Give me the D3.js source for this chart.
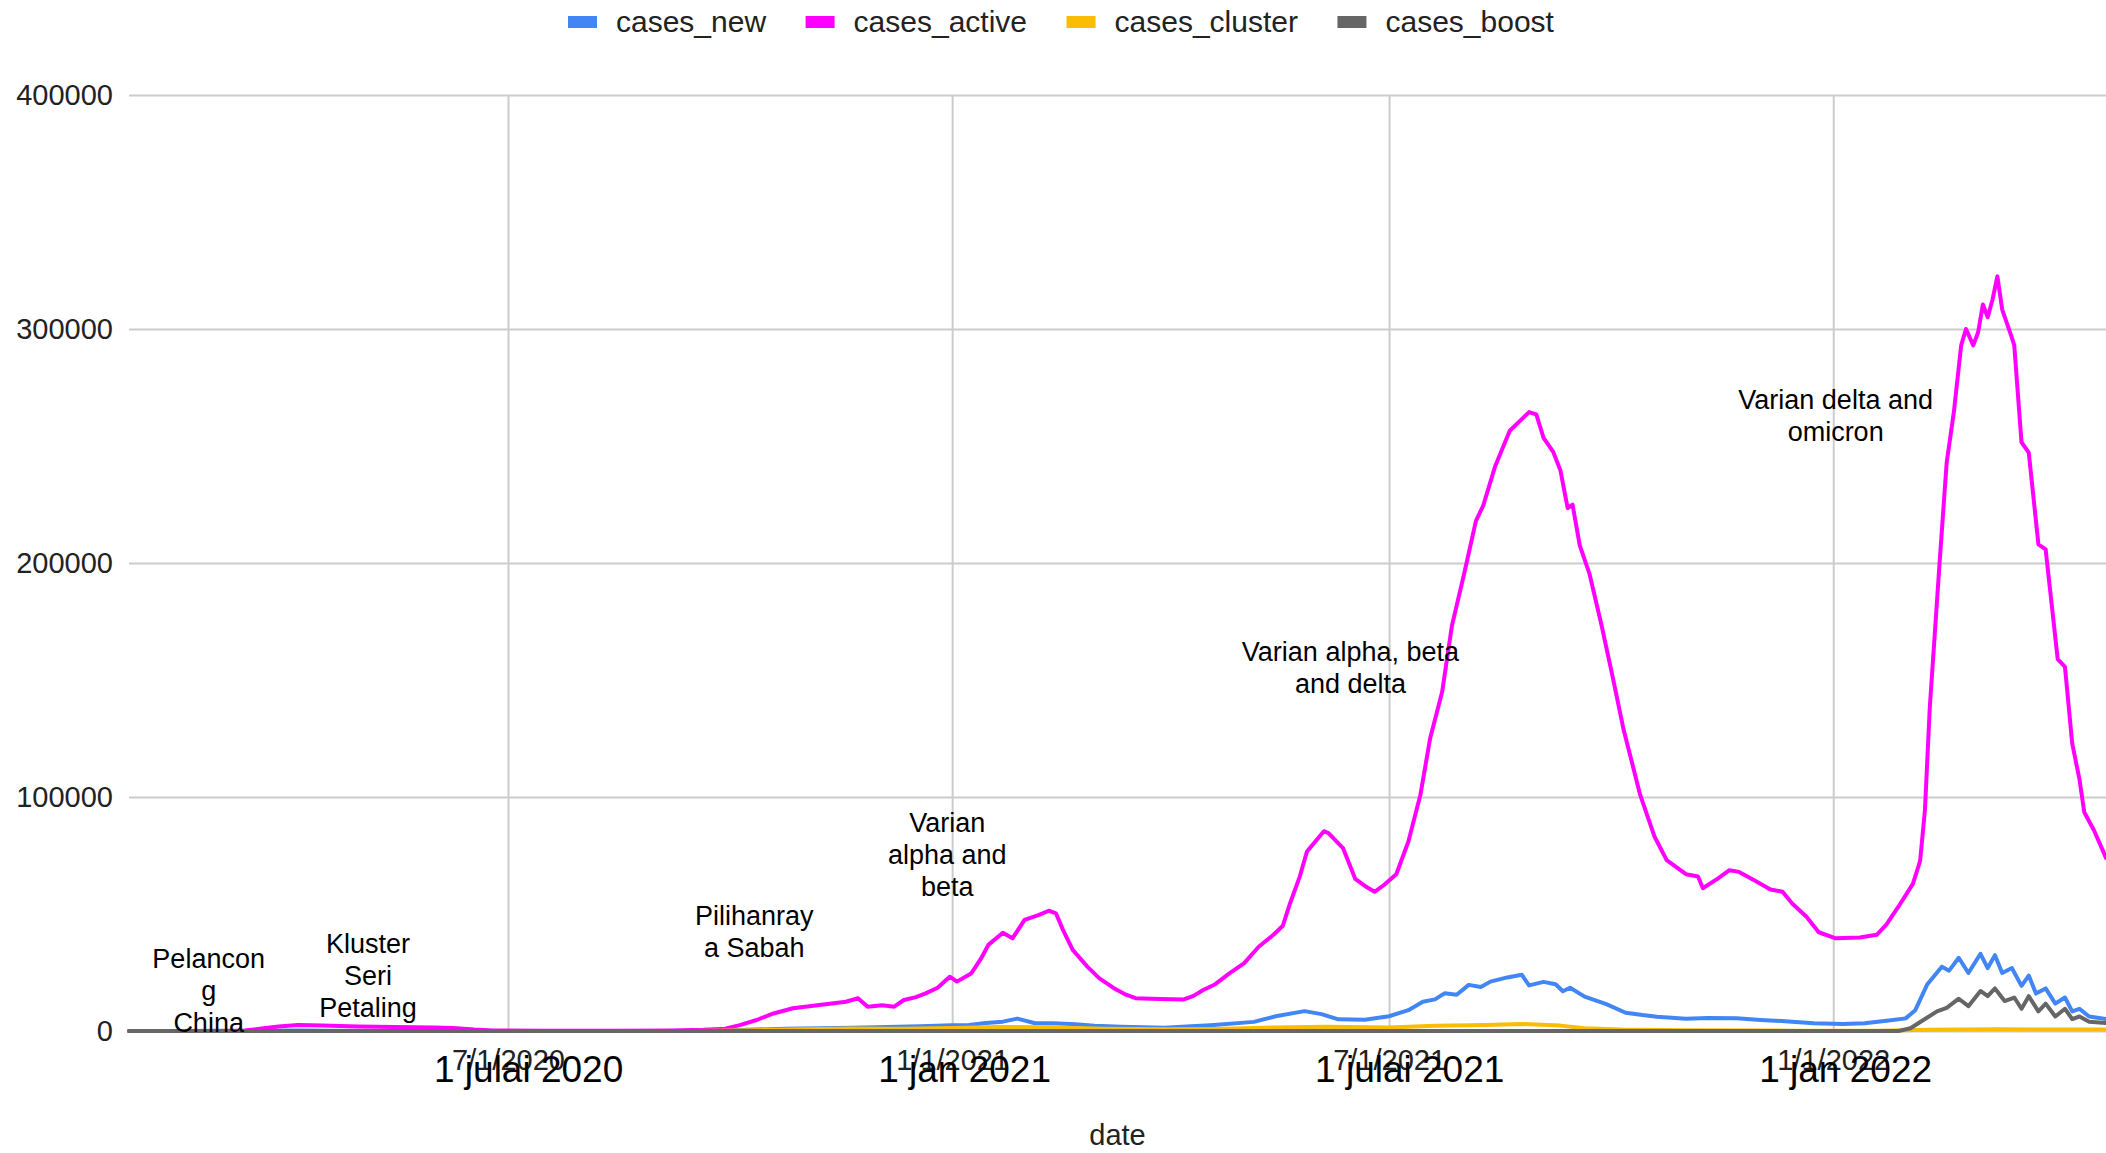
<!DOCTYPE html>
<html>
<head>
<meta charset="utf-8">
<title>cases chart</title>
<script src="https://d3js.org/d3.v7.min.js"></script>
<style>
    body { margin: 0; background: #fff; }
    text { font-family: "Liberation Sans", Arial, sans-serif; }
</style>
</head>
<body>
<div id="output"></div>
<script type="text/javascript">

    // values, [date, value]
    var casesNew = [
        ["2020-01-26",0],["2020-03-10",0],["2020-03-20",150],["2020-04-05",180],["2020-04-20",60],
        ["2020-06-01",30],["2020-09-01",20],["2020-09-20",100],["2020-10-05",400],["2020-10-24",1000],
        ["2020-11-08",1200],["2020-11-21",1400],["2020-12-05",1700],["2020-12-19",2000],["2021-01-01",2500],
        ["2021-01-08",2600],["2021-01-15",3400],["2021-01-22",4000],["2021-01-28",5300],["2021-02-04",3400],
        ["2021-02-12",3300],["2021-02-21",2900],["2021-03-01",2200],["2021-03-12",1800],["2021-03-30",1400],
        ["2021-04-10",2000],["2021-04-18",2500],["2021-05-06",3900],["2021-05-15",6300],["2021-05-27",8500],
        ["2021-06-03",7200],["2021-06-10",5000],["2021-06-21",4800],["2021-07-01",6300],["2021-07-09",8900],
        ["2021-07-15",12500],["2021-07-20",13500],["2021-07-24",16100],["2021-07-29",15500],["2021-08-03",19700],
        ["2021-08-08",18800],["2021-08-12",21100],["2021-08-19",22900],["2021-08-25",24000],["2021-08-28",19500],
        ["2021-09-03",21000],["2021-09-08",20000],["2021-09-11",17000],["2021-09-14",18500],["2021-09-20",14700],
        ["2021-09-29",11500],["2021-10-07",7800],["2021-10-14",6800],["2021-10-20",6100],["2021-11-01",5200],
        ["2021-11-10",5600],["2021-11-22",5400],["2021-12-02",4700],["2021-12-12",4200],["2021-12-24",3300],
        ["2022-01-05",3000],["2022-01-14",3300],["2022-01-24",4500],["2022-01-31",5400],["2022-02-04",8900],
        ["2022-02-09",20000],["2022-02-15",27500],["2022-02-18",25800],["2022-02-22",31300],["2022-02-26",24800],
        ["2022-03-03",33000],["2022-03-06",26900],["2022-03-09",32400],["2022-03-12",24800],["2022-03-16",26900],
        ["2022-03-20",19300],["2022-03-23",23700],["2022-03-26",16000],["2022-03-30",18200],["2022-04-03",11700],
        ["2022-04-07",14300],["2022-04-10",8400],["2022-04-13",9500],["2022-04-17",6200],["2022-04-24",5100]
    ];

    var casesActive = [
        ["2020-01-26",0],["2020-02-15",20],["2020-03-10",100],["2020-03-14",200],["2020-03-21",1100],
        ["2020-03-28",1900],["2020-04-05",2600],["2020-04-15",2300],["2020-04-30",1900],["2020-05-15",1700],
        ["2020-05-31",1500],["2020-06-08",1300],["2020-06-17",600],["2020-06-25",200],["2020-07-15",150],
        ["2020-08-15",100],["2020-09-07",200],["2020-09-20",500],["2020-09-29",1000],["2020-10-05",2500],
        ["2020-10-12",4700],["2020-10-19",7500],["2020-10-27",9700],["2020-11-02",10500],["2020-11-07",11100],
        ["2020-11-13",11900],["2020-11-18",12500],["2020-11-23",14000],["2020-11-27",10400],["2020-12-03",11000],
        ["2020-12-08",10400],["2020-12-12",13250],["2020-12-17",14500],["2020-12-21",16100],["2020-12-26",18500],
        ["2020-12-31",23200],["2021-01-03",21100],["2021-01-09",24700],["2021-01-13",31000],["2021-01-16",36800],
        ["2021-01-22",42000],["2021-01-26",39600],["2021-01-31",47500],["2021-02-06",49600],["2021-02-10",51400],
        ["2021-02-13",50300],["2021-02-16",43000],["2021-02-20",34600],["2021-02-26",27500],["2021-03-03",22500],
        ["2021-03-09",18300],["2021-03-14",15500],["2021-03-18",14000],["2021-03-28",13700],["2021-04-07",13500],
        ["2021-04-11",15000],["2021-04-15",17500],["2021-04-20",20000],["2021-04-26",24700],["2021-05-02",29000],
        ["2021-05-08",36000],["2021-05-14",41000],["2021-05-18",45000],["2021-05-21",54600],["2021-05-25",66000],
        ["2021-05-28",76700],["2021-06-04",85400],["2021-06-06",84500],["2021-06-12",78000],["2021-06-17",65000],
        ["2021-06-21",62000],["2021-06-25",59500],["2021-06-29",62500],["2021-07-04",67000],["2021-07-09",81000],
        ["2021-07-14",101000],["2021-07-18",125000],["2021-07-23",145000],["2021-07-27",173000],["2021-08-01",195000],
        ["2021-08-06",218000],["2021-08-09",224500],["2021-08-14",241500],["2021-08-20",256500],["2021-08-25",261500],
        ["2021-08-28",264500],["2021-08-31",263500],["2021-09-03",253500],["2021-09-07",247500],["2021-09-10",239500],
        ["2021-09-13",223500],["2021-09-15",225000],["2021-09-18",207500],["2021-09-22",195500],["2021-09-27",173500],
        ["2021-10-02",149500],["2021-10-06",129500],["2021-10-13",101000],["2021-10-19",83000],["2021-10-24",73000],
        ["2021-11-01",67000],["2021-11-06",66000],["2021-11-08",61000],["2021-11-14",65000],["2021-11-19",68700],
        ["2021-11-23",68000],["2021-11-30",64000],["2021-12-06",60500],["2021-12-11",59500],["2021-12-15",54500],
        ["2021-12-21",48700],["2021-12-26",42200],["2022-01-02",39600],["2022-01-12",40000],["2022-01-19",41100],
        ["2022-01-23",45500],["2022-01-28",53100],["2022-02-03",62900],["2022-02-06",72700],["2022-02-08",94500],
        ["2022-02-10",138200],["2022-02-14",199200],["2022-02-17",242900],["2022-02-20",264700],["2022-02-23",293000],
        ["2022-02-25",300000],["2022-02-28",293000],["2022-03-02",298500],["2022-03-04",310500],["2022-03-06",305000],
        ["2022-03-08",312600],["2022-03-10",322500],["2022-03-12",308300],["2022-03-16",296300],["2022-03-17",293000],
        ["2022-03-20",251600],["2022-03-23",247200],["2022-03-27",208000],["2022-03-30",205800],["2022-04-04",158900],
        ["2022-04-07",155600],["2022-04-10",122900],["2022-04-13",107600],["2022-04-15",93500],["2022-04-19",85800],
        ["2022-04-24",74000]
    ];

    var casesCluster = [
        ["2020-01-26",0],["2020-09-15",0],["2020-10-10",300],["2020-11-01",800],["2020-11-20",1100],
        ["2020-12-10",1000],["2021-01-01",1300],["2021-01-20",1700],["2021-02-10",1600],["2021-03-05",1000],
        ["2021-04-01",700],["2021-04-20",900],["2021-05-15",1500],["2021-06-05",1800],["2021-07-01",1500],
        ["2021-07-20",2200],["2021-08-10",2600],["2021-08-25",3000],["2021-09-10",2300],["2021-09-20",1200],
        ["2021-10-05",600],["2021-11-01",300],["2021-12-15",150],["2022-01-20",100],["2022-02-10",500],
        ["2022-03-10",700],["2022-04-24",600]
    ];

    var casesBoost = [
        ["2020-01-26",0],["2022-01-28",0],["2022-02-02",1200],["2022-02-08",5100],["2022-02-13",8400],
        ["2022-02-17",9900],["2022-02-22",13800],["2022-02-26",10600],["2022-03-03",17100],["2022-03-06",14900],
        ["2022-03-09",18200],["2022-03-13",12800],["2022-03-17",14300],["2022-03-20",9500],["2022-03-23",14900],
        ["2022-03-27",8400],["2022-03-30",11700],["2022-04-03",6200],["2022-04-07",9500],["2022-04-10",5100],
        ["2022-04-13",6200],["2022-04-17",4000],["2022-04-24",3400]
    ];

    var seriesNames = ["cases_new", "cases_active", "cases_cluster", "cases_boost"];
    var seriesColors = ["#4285f4", "#ff00ff", "#fbbc04", "#666666"];

    var yTicks = [0, 100000, 200000, 300000, 400000];
    var xTickDates = ["2020-07-01", "2021-01-01", "2021-07-01", "2022-01-01"];
    var xTickLabels = ["7/1/2020", "1/1/2021", "7/1/2021", "1/1/2022"];
    var xBigLabels = ["1 julai 2020", "1 jan 2021", "1 julai 2021", "1 jan 2022"];

    var annotationDates = ["2020-02-28", "2020-05-04", "2020-10-11", "2020-12-30", "2021-06-15", "2022-01-02"];
    var annotationValues = [27100, 33400, 45500, 85100, 158000, 266000];   // level of first line
    var annotationLines = [
        ["Pelancon", "g", "China"],
        ["Kluster", "Seri", "Petaling"],
        ["Pilihanray", "a Sabah"],
        ["Varian", "alpha and", "beta"],
        ["Varian alpha, beta", "and delta"],
        ["Varian delta and", "omicron"]
    ];

    var w = 2106;
    var h = 1153;
    var margin = {top: 95, right: 0, bottom: 122, left: 129};
    var wChart = w - margin.left - margin.right;
    var hChart = h - margin.top - margin.bottom;

    var parse = d3.timeParse("%Y-%m-%d");

    var x = d3.scaleTime()
        .domain([parse("2020-01-26"), parse("2022-04-24")])
        .range([0, wChart]);

    var y = d3.scaleLinear()
        .domain([0, 400000])
        .range([hChart, 0]);

    var svg = d3.select("#output").append("svg")
        .attr("width", w)
        .attr("height", h)
        .style("display", "block");

    var chart = svg.append("g")
        .attr("transform", "translate(" + margin.left + "," + margin.top + ")");

    // y axis + horizontal gridlines
    var yAxis = d3.axisLeft(y)
        .tickValues(yTicks)
        .tickSize(-wChart)
        .tickPadding(16)
        .tickFormat(d3.format("d"));

    var gy = chart.append("g").call(yAxis);
    gy.select(".domain").remove();
    gy.selectAll("line").attr("stroke", "#cccccc").attr("stroke-width", 2);
    gy.selectAll("text")
        .attr("fill", "#222")
        .style("font-size", "29px")
        .style("font-family", "'Liberation Sans', Arial, sans-serif");

    // x axis + vertical gridlines
    var xAxis = d3.axisBottom(x)
        .tickValues(xTickDates.map(parse))
        .tickSize(-hChart)
        .tickPadding(18)
        .tickFormat(function(d, i){ return xTickLabels[i]; });

    var gx = chart.append("g")
        .attr("transform", "translate(0," + hChart + ")")
        .call(xAxis);
    gx.select(".domain").remove();
    gx.selectAll("line").attr("stroke", "#cccccc").attr("stroke-width", 2);
    gx.selectAll("text")
        .attr("fill", "#222")
        .style("font-size", "29px")
        .style("font-family", "'Liberation Sans', Arial, sans-serif");

    // the larger date labels laid over the axis
    chart.selectAll(".biglabel")
        .data(xTickDates)
        .enter()
        .append("text")
        .attr("class", "biglabel")
        .attr("x", function(d){ return x(parse(d)) - 74; })
        .attr("y", hChart + 51)
        .attr("fill", "#000")
        .style("font-size", "37px")
        .text(function(d, i){ return xBigLabels[i]; });

    // lines
    var line = d3.line()
        .x(function(d){ return x(parse(d[0])); })
        .y(function(d){ return y(d[1]); });

    var allSeries = [casesNew, casesActive, casesCluster, casesBoost];

    chart.selectAll(".series")
        .data(allSeries)
        .enter()
        .append("path")
        .attr("class", "series")
        .attr("fill", "none")
        .attr("stroke", function(d, i){ return seriesColors[i]; })
        .attr("stroke-width", 4)
        .attr("stroke-linejoin", "round")
        .attr("stroke-linecap", "round")
        .attr("d", line);

    // annotations
    var ann = chart.selectAll(".ann")
        .data(annotationDates)
        .enter()
        .append("text")
        .attr("class", "ann")
        .attr("text-anchor", "middle")
        .attr("fill", "#000")
        .style("font-size", "27px");

    ann.each(function(d, i){
        var t = d3.select(this);
        annotationLines[i].forEach(function(s, k){
            t.append("tspan")
                .attr("x", x(parse(d)))
                .attr("y", y(annotationValues[i]) + k * 32)
                .text(s);
        });
    });

    // x axis title
    svg.append("text")
        .attr("x", margin.left + wChart / 2)
        .attr("y", 1145)
        .attr("text-anchor", "middle")
        .attr("fill", "#222")
        .style("font-size", "29px")
        .text("date");

    // legend
    var legend = svg.append("g").attr("transform", "translate(568,0)");
    var lx = 0;
    seriesNames.forEach(function(name, i){
        legend.append("rect")
            .attr("x", lx)
            .attr("y", 16)
            .attr("width", 29)
            .attr("height", 12)
            .attr("fill", seriesColors[i]);
        var t = legend.append("text")
            .attr("x", lx + 48)
            .attr("y", 32)
            .attr("fill", "#222")
            .style("font-size", "30px")
            .text(name);
        lx += 48 + t.node().getComputedTextLength() + 39.5;
    });

</script>
</body>
</html>
